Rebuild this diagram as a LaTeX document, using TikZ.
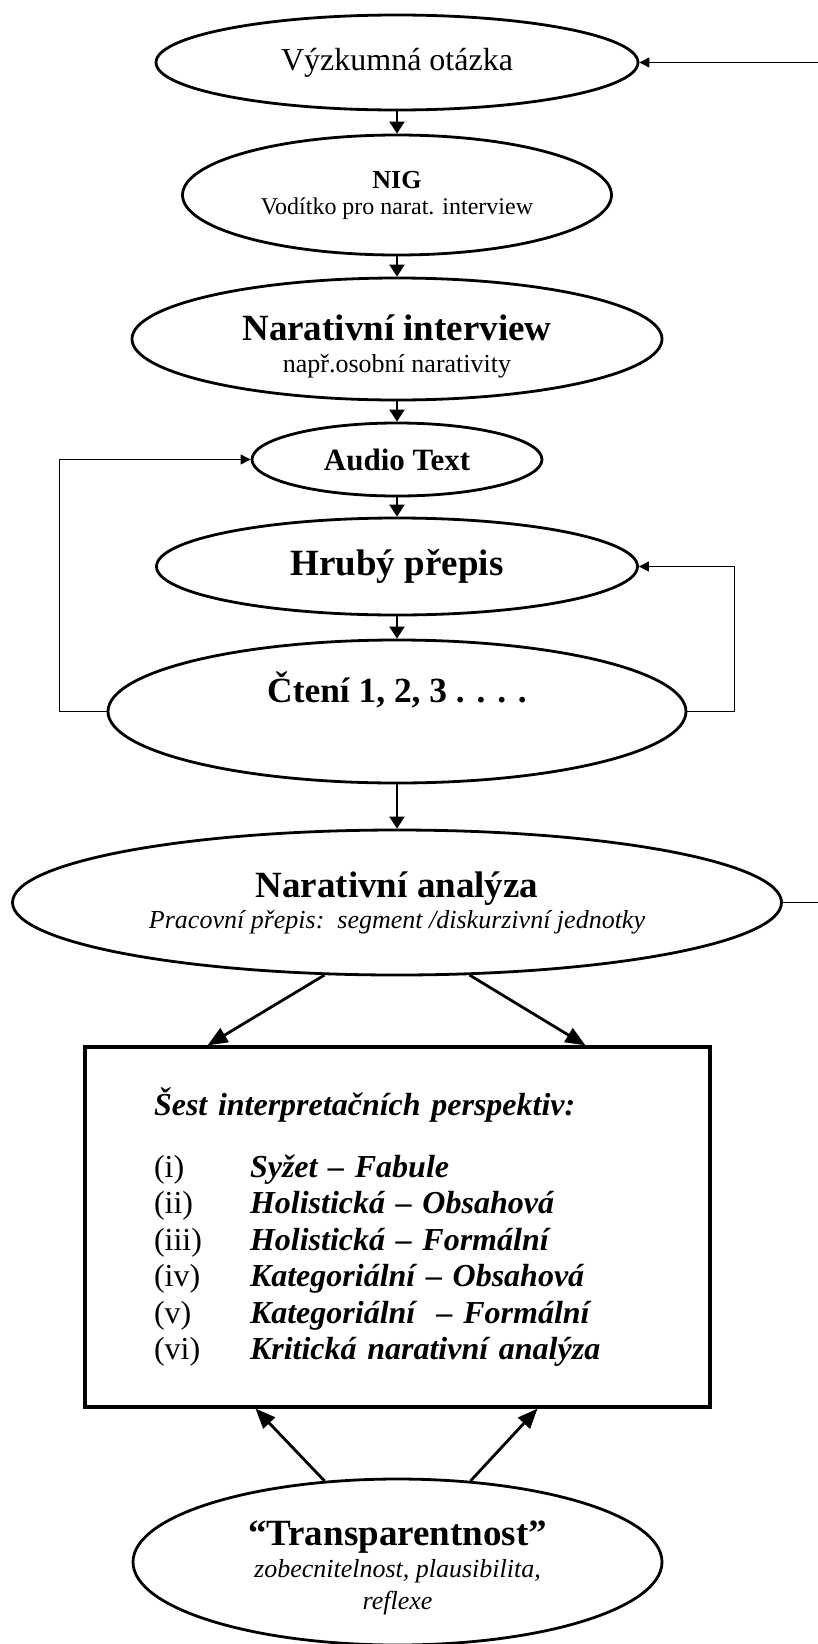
\documentclass[tikz,border=0pt]{standalone}
\usepackage{fontspec}
\setmainfont{Liberation Serif}
\usetikzlibrary{shapes.geometric,arrows.meta}
\newcommand\perspitem[2]{\makebox[48pt][l]{#1}\textbf{\textit{#2}}}

\begin{document}
\begin{tikzpicture}[
  x=0.5pt, y=-0.5pt,
  oval/.style={ellipse, draw, line width=1.4pt, inner sep=0pt, align=center},
  down/.style={-{Triangle[length=6pt,width=7.5pt]}, line width=1pt},
  slant/.style={-{Triangle[length=10pt,width=8pt]}, line width=1.4pt},
  back/.style={-{Triangle[length=5pt,width=5pt]}, line width=0.5pt},
  big/.style={font=\fontsize{18.5}{22}\selectfont\bfseries}
]
  \useasboundingbox (0,0) rectangle (818,1644);

  \node[oval, minimum width=241pt, minimum height=47.5pt, font=\fontsize{16}{19}\selectfont] (vyzkum) at (397,62.5) {Výzkumná otázka};
  \node[oval, minimum width=214.5pt, minimum height=60pt, font=\fontsize{12}{13}\selectfont] (nig) at (397,195) {\textbf{\fontsize{13}{13}\selectfont NIG}\\Vodítko pro narat. interview};
  \node[oval, minimum width=265pt, minimum height=61pt, font=\fontsize{13}{16}\selectfont] (interview) at (397,339) {{\bfseries\fontsize{18.5}{16}\selectfont\rule{0pt}{19.8pt}Narativní interview}\\např.osobní narativity};
  \node[oval, minimum width=145pt, minimum height=36.5pt, font=\fontsize{15.5}{18}\selectfont\bfseries] (audio) at (397,459.5) {Audio Text};
  \node[oval, minimum width=240.5pt, minimum height=48.5pt, big] (hruby) at (397,566.5) {Hrubý přepis};
  \node[oval, minimum width=289pt, minimum height=71.5pt, font=\fontsize{17.7}{21}\selectfont\bfseries, text depth=24pt] (cteni) at (397,711.5) {Čtení 1, 2, 3 . . . .};
  \node[oval, minimum width=384.5pt, minimum height=72.5pt, font=\fontsize{13}{15.5}\selectfont\itshape] (analyza) at (397,902.5) {{\upshape\bfseries\fontsize{18.5}{15.5}\selectfont Narativní analýza}\\Pracovní přepis:\ \ segment /diskurzivní jednotky};
  \node[draw, line width=1.6pt, minimum width=312.5pt, minimum height=180pt, text width=243.5pt, align=left, font=\fontsize{16}{18.2}\selectfont] (persp) at (397.5,1227) {\textbf{\textit{Šest interpretačních perspektiv:}}\\[12.8pt]
    \perspitem{(i)}{Syžet – Fabule}\\
    \perspitem{(ii)}{Holistická – Obsahová}\\
    \perspitem{(iii)}{Holistická – Formální}\\
    \perspitem{(iv)}{Kategoriální – Obsahová}\\
    \perspitem{(v)}{Kategoriální\ \ – Formální}\\
    \perspitem{(vi)}{Kritická narativní analýza}};
  \node[oval, minimum width=264.5pt, minimum height=83pt, font=\fontsize{13}{16}\selectfont\itshape] (transp) at (397.5,1562) {{\upshape\bfseries\fontsize{18.5}{16}\selectfont\rule{0pt}{18.6pt}“Transparentnost”}\\zobecnitelnost, plausibilita,\\reflexe};

  \draw[down] (vyzkum) -- (nig);
  \draw[down] (nig) -- (interview);
  \draw[down] (interview) -- (audio);
  \draw[down] (audio) -- (hruby);
  \draw[down] (hruby) -- (cteni);
  \draw[down] (cteni) -- (analyza);

  \draw[back] (cteni.west) -- ++(-47,0) |- (audio.west);
  \draw[back] (cteni.east) -- ++(47,0) |- (hruby.east);
  \draw[back] (analyza.east) -- ++(60,0) |- (vyzkum.east);

  \draw[slant] (analyza.225) -- ([xshift=-95pt]persp.north);
  \draw[slant] (analyza.315) -- ([xshift=94pt]persp.north);
  \draw[slant] (transp.132) -- ([xshift=-71pt]persp.south);
  \draw[slant] (transp.48) -- ([xshift=70pt]persp.south);
\end{tikzpicture}
\end{document}
